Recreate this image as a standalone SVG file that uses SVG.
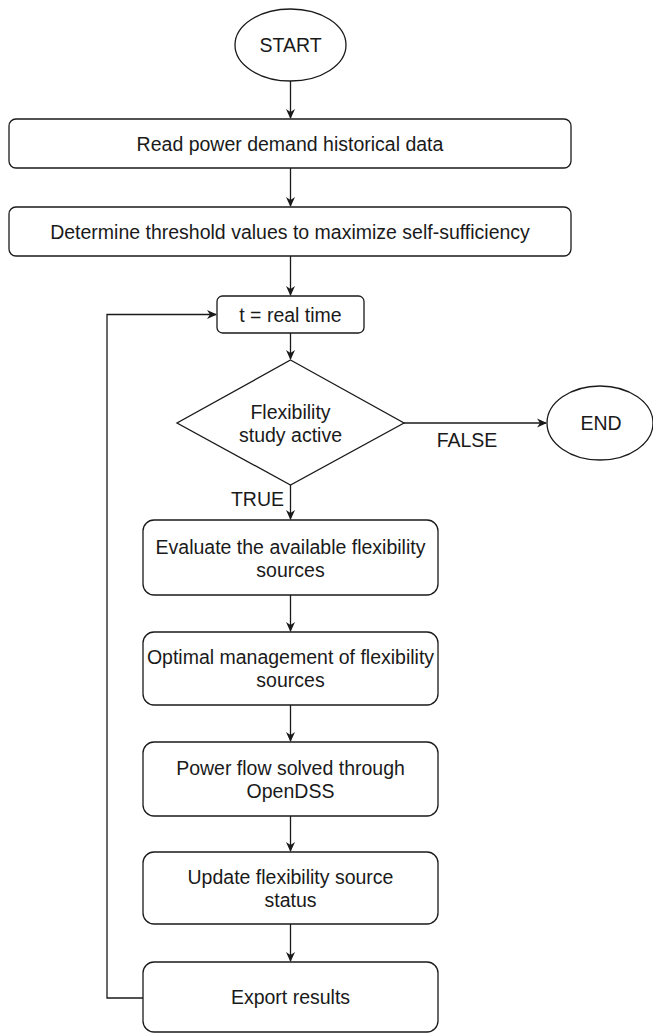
<svg xmlns="http://www.w3.org/2000/svg" width="653" height="1034" viewBox="0 0 653 1034">
<style>
.n{fill:#ffffff;stroke:#1a1a1a;stroke-width:1.3}
.t{font-family:"Liberation Sans",Arial,Helvetica,sans-serif;font-size:19.5px;fill:#1a1a1a;text-anchor:middle;dominant-baseline:central}
.c{fill:none;stroke:#1a1a1a;stroke-width:1.3}
</style>
<defs>
<marker id="ah" viewBox="0 0 10 10" refX="9" refY="5" markerWidth="10" markerHeight="10" markerUnits="userSpaceOnUse" orient="auto">
<path d="M0,0.5 L10,5 L0,9.5 L3,5 Z" fill="#1a1a1a"/>
</marker>
</defs>
<rect width="653" height="1034" fill="#ffffff"/>
<g id="connectors">
<line class="c" x1="290.5" y1="81" x2="290.5" y2="118" marker-end="url(#ah)"/>
<line class="c" x1="290.5" y1="168" x2="290.5" y2="206" marker-end="url(#ah)"/>
<line class="c" x1="290.5" y1="256" x2="290.5" y2="295" marker-end="url(#ah)"/>
<line class="c" x1="290.5" y1="333" x2="290.5" y2="359" marker-end="url(#ah)"/>
<line class="c" x1="404" y1="423" x2="546" y2="423" marker-end="url(#ah)"/>
<line class="c" x1="290.5" y1="485" x2="290.5" y2="519" marker-end="url(#ah)"/>
<line class="c" x1="290.5" y1="595" x2="290.5" y2="631" marker-end="url(#ah)"/>
<line class="c" x1="290.5" y1="705" x2="290.5" y2="741" marker-end="url(#ah)"/>
<line class="c" x1="290.5" y1="816" x2="290.5" y2="851" marker-end="url(#ah)"/>
<line class="c" x1="290.5" y1="924" x2="290.5" y2="961" marker-end="url(#ah)"/>
<polyline class="c" points="143,998 107,998 107,314.5 216,314.5" marker-end="url(#ah)"/>
<text class="t" x="467" y="440">FALSE</text>
<text class="t" x="257.5" y="499">TRUE</text>
</g>
<g id="start">
<ellipse class="n" cx="290.5" cy="45" rx="55.5" ry="36"/>
<text class="t" x="290.5" y="45">START</text>
</g>
<g id="read">
<rect class="n" x="9" y="119" width="562" height="49" rx="7"/>
<text class="t" x="290" y="143.5">Read power demand historical data</text>
</g>
<g id="threshold">
<rect class="n" x="9" y="207" width="562" height="49" rx="7"/>
<text class="t" x="290" y="231.5">Determine threshold values to maximize self-sufficiency</text>
</g>
<g id="realtime">
<rect class="n" x="217" y="296" width="147" height="37" rx="5.5"/>
<text class="t" x="290.5" y="314.5">t = real time</text>
</g>
<g id="decision">
<polygon class="n" points="290.5,360 404,423 290.5,485 177,423"/>
<text class="t" x="290.5" y="412">Flexibility</text>
<text class="t" x="290.5" y="435">study active</text>
</g>
<g id="end">
<ellipse class="n" cx="600" cy="423" rx="53" ry="37"/>
<text class="t" x="601" y="423">END</text>
</g>
<g id="evaluate">
<rect class="n" x="143" y="520" width="295" height="75" rx="11"/>
<text class="t" x="290.5" y="546.5">Evaluate the available flexibility</text>
<text class="t" x="290.5" y="569.5">sources</text>
</g>
<g id="optimal">
<rect class="n" x="143" y="632" width="295" height="73" rx="11"/>
<text class="t" x="290.5" y="657">Optimal management of flexibility</text>
<text class="t" x="290.5" y="680">sources</text>
</g>
<g id="powerflow">
<rect class="n" x="143" y="742" width="295" height="74" rx="11"/>
<text class="t" x="290.5" y="767.5">Power flow solved through</text>
<text class="t" x="290.5" y="790.5">OpenDSS</text>
</g>
<g id="update">
<rect class="n" x="143" y="852" width="295" height="72" rx="11"/>
<text class="t" x="290.5" y="876.5">Update flexibility source</text>
<text class="t" x="290.5" y="899.5">status</text>
</g>
<g id="export">
<rect class="n" x="143" y="962" width="295" height="70" rx="11"/>
<text class="t" x="290.5" y="997">Export results</text>
</g>
</svg>
